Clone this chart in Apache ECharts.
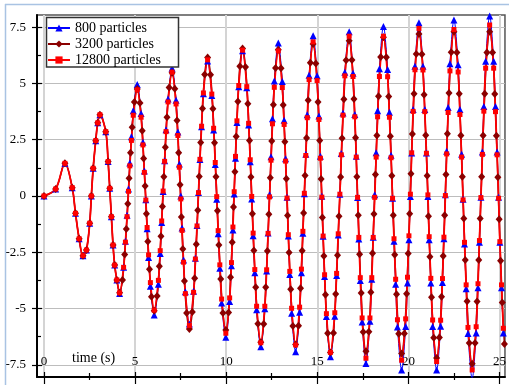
<!DOCTYPE html>
<html><head><meta charset="utf-8">
<script src="https://cdn.jsdelivr.net/npm/echarts@6/dist/echarts.min.js"></script>
<style>html,body{margin:0;padding:0;background:#fff}#c{width:509px;height:390px}</style>
</head><body><div id="c"></div>
<script>
const seriesNames = ['800 particles', '3200 particles', '12800 particles'];
const xLabelTicks = [0, 5, 10, 15, 20, 25];
const xMinorTicks = [2.5, 7.5, 12.5, 17.5, 22.5];
const yLabelTicks = [-7.5, -5, -2.5, 0, 2.5, 5, 7.5];
const yMinorTicks = [-6.25, -3.75, -1.25, 1.25, 3.75, 6.25];

// early part: all three runs coincide
const timeEarly = [0, 0.64, 1.15, 1.55, 1.73, 1.93, 2.14, 2.33, 2.51, 2.6, 2.7, 2.84, 2.95, 3.07, 3.39, 3.52, 3.61, 3.7, 3.79, 3.88, 4.0];
const valueEarly = [0, 0.31, 1.45, 0.37, -0.77, -1.9, -2.65, -2.4, -1.21, 0, 1.23, 2.46, 3.25, 3.61, 2.86, 1.53, 0.34, -0.92, -2.18, -3.07, -3.73];

// sample times for 800 and 12800 particles
const timeGridA = [
 4.15, 4.37, 4.47, 4.56, 4.64, 4.71, 4.80, 4.90,
 5.12, 5.33, 5.43, 5.51, 5.59, 5.66, 5.74, 5.84,
 6.05, 6.28, 6.38, 6.46, 6.54, 6.62, 6.70, 6.81,
 7.03, 7.25, 7.35, 7.43, 7.51, 7.58, 7.66, 7.76,
 7.98, 8.21, 8.31, 8.40, 8.48, 8.56, 8.65, 8.75,
 8.98, 9.21, 9.31, 9.40, 9.48, 9.56, 9.65, 9.75,
 9.98, 10.19, 10.29, 10.37, 10.44, 10.51, 10.59, 10.69,
 10.9, 11.13, 11.23, 11.32, 11.40, 11.48, 11.57, 11.67,
 11.9, 12.12, 12.22, 12.30, 12.38, 12.46, 12.54, 12.64,
 12.86, 13.08, 13.18, 13.26, 13.34, 13.41, 13.49, 13.59,
 13.81, 14.03, 14.13, 14.21, 14.29, 14.37, 14.45, 14.55,
 14.77, 14.99, 15.09, 15.17, 15.25, 15.32, 15.40, 15.50,
 15.72, 15.96, 16.06, 16.15, 16.24, 16.32, 16.41, 16.51,
 16.75, 16.96, 17.06, 17.14, 17.21, 17.28, 17.36, 17.46,
 17.67, 17.89, 17.99, 18.07, 18.15, 18.23, 18.31, 18.41,
 18.63, 18.86, 18.96, 19.05, 19.13, 19.21, 19.30, 19.40,
 19.63, 19.85, 19.95, 20.03, 20.11, 20.18, 20.26, 20.36,
 20.58, 20.80, 20.90, 20.99, 21.07, 21.14, 21.23, 21.33,
 21.55, 21.77, 21.87, 21.95, 22.03, 22.10, 22.18, 22.28,
 22.5, 22.73, 22.83, 22.92, 23.0, 23.08, 23.17, 23.27,
 23.5, 23.72, 23.82, 23.90, 23.98, 24.06, 24.14, 24.24,
 24.46, 24.68, 24.78, 24.87, 24.95, 25.02, 25.11, 25.21
];
const value800 = [
 -4.33, -3.17, -2.01, -0.85, 0.31, 1.47, 2.63, 3.79,
 4.95, 3.67, 2.39, 1.11, -0.17, -1.45, -2.73, -4.01,
 -5.29, -3.92, -2.55, -1.18, 0.2, 1.57, 2.94, 4.31,
 5.68, 4.26, 2.84, 1.42, 0, -1.42, -2.84, -4.26,
 -5.69, -4.23, -2.77, -1.31, 0.16, 1.62, 3.08, 4.54,
 6.0, 4.47, 2.93, 1.4, -0.14, -1.68, -3.21, -4.75,
 -6.28, -4.69, -3.1, -1.51, 0.09, 1.68, 3.27, 4.86,
 6.45, 4.81, 3.16, 1.52, -0.13, -1.77, -3.41, -5.06,
 -6.7, -5.01, -3.33, -1.64, 0.05, 1.74, 3.43, 5.11,
 6.8, 5.09, 3.37, 1.66, -0.06, -1.78, -3.49, -5.21,
 -6.92, -5.17, -3.41, -1.66, 0.1, 1.86, 3.61, 5.37,
 7.12, 5.34, 3.56, 1.77, -0.01, -1.79, -3.58, -5.36,
 -7.14, -5.34, -3.53, -1.73, 0.08, 1.89, 3.69, 5.5,
 7.3, 5.46, 3.62, 1.77, -0.07, -1.91, -3.76, -5.6,
 -7.44, -5.57, -3.7, -1.83, 0.05, 1.92, 3.79, 5.66,
 7.53, 5.62, 3.72, 1.81, -0.1, -2.01, -3.92, -5.82,
 -7.73, -5.8, -3.87, -1.94, -0.02, 1.91, 3.84, 5.77,
 7.7, 5.77, 3.84, 1.91, -0.02, -1.94, -3.87, -5.8,
 -7.73, -5.79, -3.84, -1.9, 0.05, 1.99, 3.93, 5.88,
 7.82, 5.83, 3.84, 1.85, -0.14, -2.13, -4.12, -6.11,
 -8.1, -6.09, -4.08, -2.06, -0.05, 1.96, 3.98, 5.99,
 8.0, 5.99, 3.98, 1.96, -0.05, -2.06, -4.08, -6.09
];
const value12800 = [
 -4.3, -3.17, -2.05, -0.92, 0.21, 1.34, 2.47, 3.59,
 4.72, 3.5, 2.27, 1.05, -0.18, -1.4, -2.62, -3.85,
 -5.07, -3.75, -2.43, -1.11, 0.22, 1.54, 2.86, 4.18,
 5.5, 4.09, 2.69, 1.28, -0.13, -1.53, -2.94, -4.34,
 -5.75, -4.28, -2.8, -1.33, 0.15, 1.63, 3.1, 4.58,
 6.05, 4.53, 3.01, 1.49, -0.03, -1.54, -3.06, -4.58,
 -6.1, -4.53, -2.96, -1.38, 0.19, 1.76, 3.34, 4.91,
 6.48, 4.86, 3.23, 1.61, -0.02, -1.65, -3.27, -4.9,
 -6.52, -4.9, -3.28, -1.66, -0.04, 1.59, 3.21, 4.83,
 6.45, 4.82, 3.18, 1.55, -0.09, -1.72, -3.35, -4.99,
 -6.62, -4.94, -3.25, -1.57, 0.12, 1.8, 3.48, 5.17,
 6.85, 5.13, 3.4, 1.68, -0.05, -1.78, -3.5, -5.23,
 -6.95, -5.19, -3.44, -1.68, 0.08, 1.83, 3.59, 5.34,
 7.1, 5.31, 3.52, 1.73, -0.06, -1.84, -3.63, -5.42,
 -7.21, -5.42, -3.63, -1.84, -0.06, 1.73, 3.52, 5.31,
 7.1, 5.3, 3.5, 1.7, -0.1, -1.9, -3.7, -5.5,
 -7.3, -5.46, -3.61, -1.77, 0.08, 1.92, 3.76, 5.61,
 7.45, 5.6, 3.75, 1.9, 0.05, -1.81, -3.66, -5.51,
 -7.36, -5.52, -3.67, -1.83, 0.02, 1.87, 3.71, 5.56,
 7.4, 5.51, 3.62, 1.73, -0.17, -2.06, -3.95, -5.84,
 -7.73, -5.81, -3.9, -1.98, -0.07, 1.85, 3.77, 5.68,
 7.6, 5.68, 3.75, 1.83, -0.1, -2.03, -3.95, -5.88
];

// sample times for 3200 particles
const timeGridB = [
 4.15, 4.31, 4.43, 4.52, 4.60, 4.67, 4.75, 4.84, 4.96,
 5.12, 5.27, 5.39, 5.47, 5.55, 5.62, 5.70, 5.79, 5.90,
 6.05, 6.21, 6.33, 6.42, 6.50, 6.58, 6.66, 6.75, 6.87,
 7.03, 7.18, 7.30, 7.39, 7.47, 7.54, 7.62, 7.71, 7.83,
 7.98, 8.14, 8.27, 8.36, 8.44, 8.52, 8.60, 8.70, 8.82,
 8.98, 9.14, 9.27, 9.36, 9.44, 9.52, 9.60, 9.70, 9.82,
 9.98, 10.13, 10.24, 10.33, 10.40, 10.48, 10.55, 10.64, 10.75,
 10.9, 11.06, 11.19, 11.28, 11.36, 11.44, 11.52, 11.62, 11.74,
 11.9, 12.06, 12.17, 12.26, 12.34, 12.42, 12.50, 12.59, 12.71,
 12.86, 13.01, 13.13, 13.22, 13.30, 13.37, 13.45, 13.54, 13.66,
 13.81, 13.97, 14.08, 14.17, 14.25, 14.33, 14.41, 14.50, 14.62,
 14.77, 14.92, 15.04, 15.13, 15.21, 15.28, 15.36, 15.45, 15.57,
 15.72, 15.89, 16.01, 16.11, 16.19, 16.28, 16.36, 16.46, 16.58,
 16.75, 16.90, 17.01, 17.10, 17.17, 17.25, 17.32, 17.41, 17.52,
 17.67, 17.83, 17.94, 18.03, 18.11, 18.19, 18.27, 18.36, 18.48,
 18.63, 18.79, 18.92, 19.01, 19.09, 19.17, 19.25, 19.35, 19.47,
 19.63, 19.78, 19.90, 19.99, 20.07, 20.14, 20.22, 20.31, 20.43,
 20.58, 20.74, 20.86, 20.95, 21.03, 21.10, 21.18, 21.27, 21.39,
 21.55, 21.70, 21.82, 21.91, 21.99, 22.06, 22.14, 22.23, 22.35,
 22.5, 22.66, 22.79, 22.88, 22.96, 23.04, 23.12, 23.22, 23.34,
 23.5, 23.66, 23.77, 23.86, 23.94, 24.02, 24.10, 24.19, 24.31,
 24.46, 24.62, 24.74, 24.83, 24.91, 24.98, 25.06, 25.15, 25.27
];
const value3200 = [
 -4.3, -3.73, -2.6, -1.47, -0.34, 0.79, 1.92, 3.05, 4.18,
 4.75, 4.13, 2.9, 1.67, 0.44, -0.79, -2.02, -3.25, -4.48,
 -5.1, -4.44, -3.12, -1.79, -0.47, 0.85, 2.17, 3.5, 4.82,
 5.48, 4.77, 3.35, 1.92, 0.5, -0.93, -2.35, -3.78, -5.2,
 -5.91, -5.16, -3.65, -2.14, -0.63, 0.87, 2.38, 3.89, 5.4,
 6.15, 5.39, 3.88, 2.37, 0.85, -0.66, -2.18, -3.69, -5.2,
 -5.96, -5.18, -3.61, -2.05, -0.49, 1.08, 2.64, 4.2, 5.77,
 6.55, 5.73, 4.1, 2.47, 0.84, -0.79, -2.42, -4.05, -5.68,
 -6.5, -5.69, -4.06, -2.44, -0.81, 0.81, 2.44, 4.06, 5.69,
 6.5, 5.68, 4.04, 2.41, 0.77, -0.87, -2.51, -4.14, -5.78,
 -6.6, -5.77, -4.1, -2.43, -0.76, 0.91, 2.58, 4.25, 5.92,
 6.75, 5.89, 4.18, 2.47, 0.75, -0.96, -2.67, -4.39, -6.1,
 -6.96, -6.09, -4.36, -2.63, -0.9, 0.84, 2.57, 4.3, 6.03,
 6.9, 6.04, 4.31, 2.59, 0.86, -0.86, -2.59, -4.31, -6.04,
 -6.9, -6.03, -4.28, -2.54, -0.8, 0.95, 2.69, 4.43, 6.18,
 7.05, 6.17, 4.42, 2.66, 0.9, -0.85, -2.61, -4.37, -6.12,
 -7.0, -6.11, -4.34, -2.56, -0.79, 0.99, 2.76, 4.54, 6.31,
 7.2, 6.3, 4.5, 2.7, 0.9, -0.9, -2.7, -4.5, -6.3,
 -7.2, -6.29, -4.48, -2.67, -0.86, 0.96, 2.77, 4.58, 6.39,
 7.3, 6.38, 4.54, 2.69, 0.85, -1.0, -2.84, -4.68, -6.53,
 -7.45, -6.53, -4.69, -2.84, -1.0, 0.85, 2.69, 4.54, 6.38,
 7.3, 6.38, 4.53, 2.68, 0.83, -1.03, -2.88, -4.73, -6.58
];

function pairs(ts, vs) { return ts.map((t, i) => [t, vs[i]]); }
const data800 = pairs(timeEarly, valueEarly).concat(pairs(timeGridA, value800));
const data3200 = pairs(timeEarly, valueEarly).concat(pairs(timeGridB, value3200));
const data12800 = pairs(timeEarly, valueEarly).concat(pairs(timeGridA, value12800));

const FONT = 'Liberation Serif';
const X_MIN = -0.383, X_MAX = 25.3, Y_MIN = -8.044, Y_MAX = 8.044;

function extraAxis(min, max, pos, ticks, inside, len) {
  return {
    type: 'value', min: min, max: max, position: pos, gridIndex: 0,
    axisLine: { show: false, onZero: false },
    axisLabel: { show: false },
    splitLine: { show: false },
    axisTick: { show: true, inside: inside, length: len, customValues: ticks,
      lineStyle: { color: '#000', width: 1.2 } }
  };
}

const chart = echarts.init(document.getElementById('c'), null, { renderer: 'canvas' });
chart.setOption({
  animation: false,
  backgroundColor: '#fff',
  grid: { left: 37, right: 2, top: 15, bottom: 13, show: true,
    borderColor: '#555', borderWidth: 1.5, backgroundColor: 'transparent' },
  title: { text: 'time (s)', left: 72, top: 351, padding: 0,
    textStyle: { fontFamily: FONT, fontSize: 14, fontWeight: 'normal', color: '#000' } },
  legend: {
    data: seriesNames, orient: 'vertical', left: 46, top: 18,
    padding: [2, 6, 0, 1], itemGap: 0, itemWidth: 22, itemHeight: 9,
    textStyle: { fontFamily: FONT, fontSize: 14, color: '#000', lineHeight: 16 },
    z: 10
  },
  graphic: [
    { type: 'rect', z: 5, shape: { x: 46.5, y: 17.5, width: 132, height: 49.5 },
      style: { fill: '#fff', stroke: '#333', lineWidth: 1.5 } },
    { type: 'line', z: 5, shape: { x1: 5, y1: 4.5, x2: 509, y2: 4.5 },
      style: { stroke: '#a9c3e3', lineWidth: 1.5 } },
    { type: 'line', z: 5, shape: { x1: 5.5, y1: 4, x2: 5.5, y2: 385 },
      style: { stroke: '#a9c3e3', lineWidth: 1.5 } }
  ],
  xAxis: [
    {
      type: 'value', min: X_MIN, max: X_MAX, position: 'bottom',
      axisLine: { show: true, onZero: false, lineStyle: { color: '#000', width: 2 } },
      axisTick: { show: true, inside: false, length: 7, customValues: xLabelTicks,
        lineStyle: { color: '#000', width: 1.2 } },
      axisLabel: { show: true, inside: true, margin: 9, customValues: xLabelTicks,
        color: '#000', fontFamily: FONT, fontSize: 13 },
      splitLine: { show: true, lineStyle: { color: '#d4d4d4', width: 2 } }
    },
    extraAxis(X_MIN, X_MAX, 'bottom', xLabelTicks, true, 5),
    extraAxis(X_MIN, X_MAX, 'bottom', xMinorTicks, true, 4),
    extraAxis(X_MIN, X_MAX, 'bottom', xMinorTicks, false, 3)
  ],
  yAxis: [
    {
      type: 'value', min: Y_MIN, max: Y_MAX, position: 'left',
      axisLine: { show: true, onZero: false, lineStyle: { color: '#000', width: 2 } },
      axisTick: { show: true, inside: false, length: 5, customValues: yLabelTicks,
        lineStyle: { color: '#000', width: 1.2 } },
      axisLabel: { show: true, margin: 11, customValues: yLabelTicks,
        color: '#000', fontFamily: FONT, fontSize: 13 },
      splitLine: { show: true, lineStyle: { color: '#bdbdbd', width: 1 } }
    },
    extraAxis(Y_MIN, Y_MAX, 'left', yLabelTicks, true, 5),
    extraAxis(Y_MIN, Y_MAX, 'left', yMinorTicks, true, 4)
  ],
  series: [
    { name: seriesNames[0], type: 'line', data: data800, xAxisIndex: 0, yAxisIndex: 0,
      symbol: 'triangle', symbolSize: 7, showAllSymbol: true, smooth: 0.35,
      lineStyle: { color: '#0000ff', width: 1 }, itemStyle: { color: '#0000ff' } },
    { name: seriesNames[1], type: 'line', data: data3200, xAxisIndex: 0, yAxisIndex: 0,
      symbol: 'diamond', symbolSize: [7, 8], showAllSymbol: true, smooth: 0.35,
      lineStyle: { color: '#8b0000', width: 1.5 }, itemStyle: { color: '#8b0000' } },
    { name: seriesNames[2], type: 'line', data: data12800, xAxisIndex: 0, yAxisIndex: 0,
      symbol: 'rect', symbolSize: 5, showAllSymbol: true, smooth: 0.35,
      lineStyle: { color: '#ff0000', width: 1.8 }, itemStyle: { color: '#ff0000' } }
  ]
});
</script></body></html>
